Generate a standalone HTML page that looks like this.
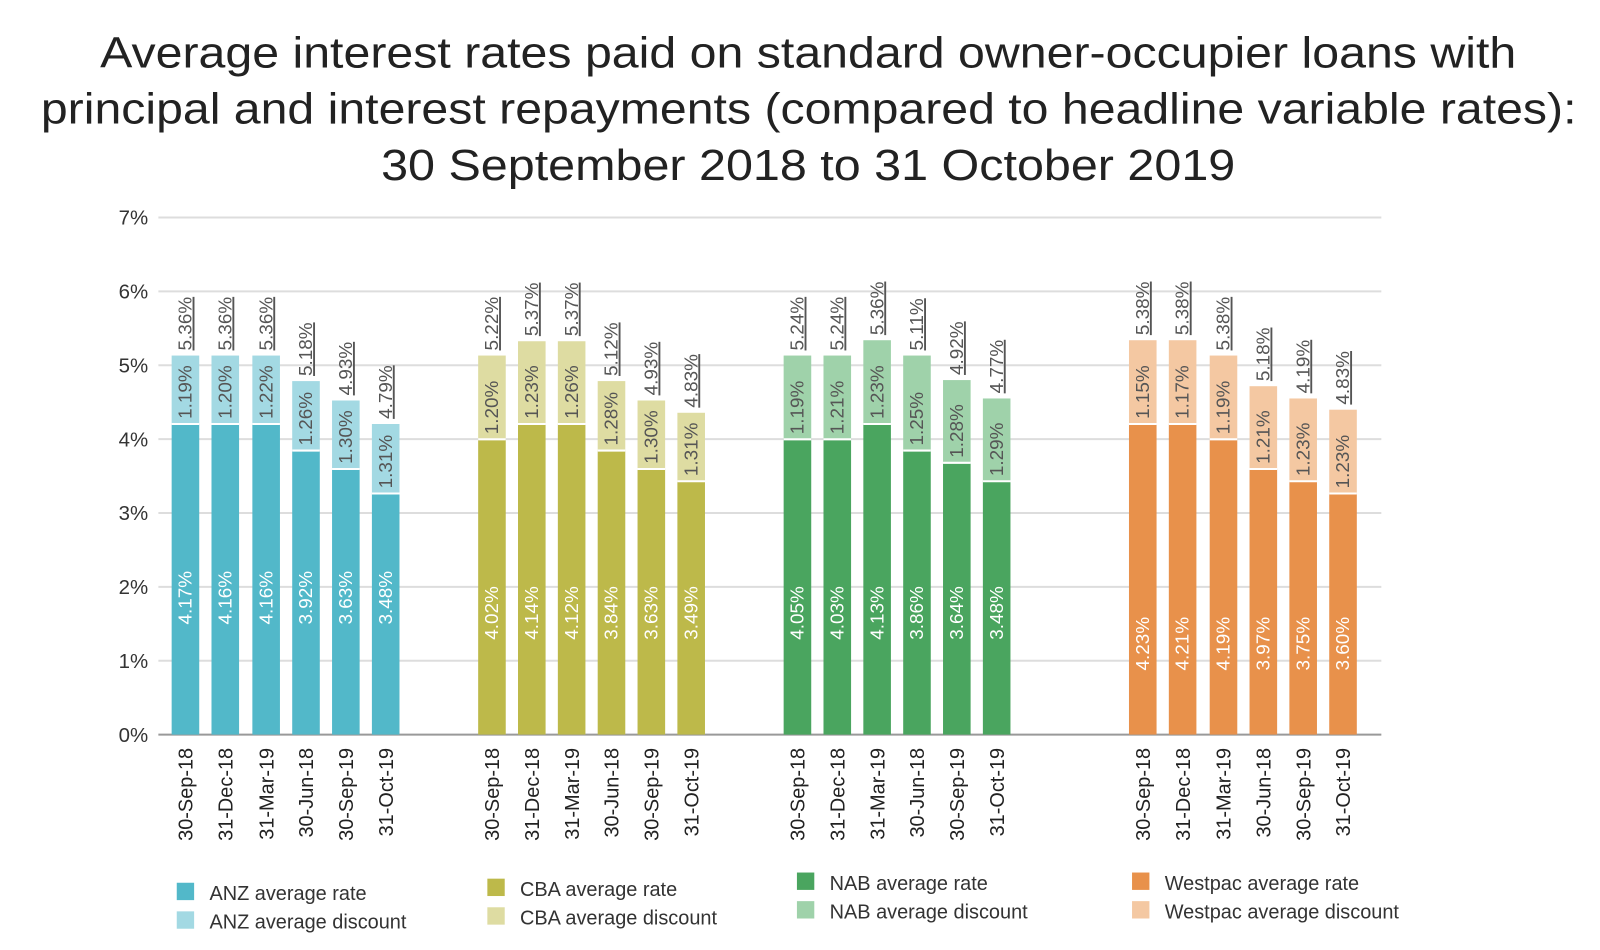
<!DOCTYPE html>
<html><head><meta charset="utf-8"><style>
body{margin:0;background:#fff;width:1600px;height:945px;overflow:hidden}
svg text{font-family:"Liberation Sans",sans-serif}
</style></head><body>
<svg width="1600" height="945" xmlns="http://www.w3.org/2000/svg">
<g id="s" transform="scale(1.0217)">
<text x="98" y="66" font-size="43" textLength="1386" lengthAdjust="spacingAndGlyphs" fill="#222">Average interest rates paid on standard owner-occupier loans with</text>
<text x="40" y="121" font-size="43" textLength="1503" lengthAdjust="spacingAndGlyphs" fill="#222">principal and interest repayments (compared to headline variable rates):</text>
<text x="373" y="176" font-size="43" textLength="836" lengthAdjust="spacingAndGlyphs" fill="#222">30 September 2018 to 31 October 2019</text>
</g>
</svg>
<script>
const s=document.getElementById('s');let h='';
const y0=719,pp=72.3;
for(let i=0;i<=7;i++){const y=y0-i*pp;h+=`<line x1="155" x2="1352" y1="${y}" y2="${y}" stroke="${i?'#ddd':'#999'}" stroke-width="2"/>`;
h+=`<text x="145" y="${y+7}" font-size="20" text-anchor="end" fill="#333">${i}%</text>`;}
const dates=['30-Sep-18','31-Dec-18','31-Mar-19','30-Jun-18','30-Sep-19','31-Oct-19'];
const G=[
{x:[168,207,247,286,325,364],c:'#52b8c9',l:'#a3d9e3',r:[415,415,415,441,459,483],t:[348,348,348,373,392,415],
rl:['4.17%','4.16%','4.16%','3.92%','3.63%','3.48%'],dl:['1.19%','1.20%','1.22%','1.26%','1.30%','1.31%'],tl:['5.36%','5.36%','5.36%','5.18%','4.93%','4.79%'],ry:585},
{x:[468,507,546,585,624,663],c:'#bdb94a',l:'#dedca2',r:[430,415,415,441,459,471],t:[348,334,334,373,392,404],
rl:['4.02%','4.14%','4.12%','3.84%','3.63%','3.49%'],dl:['1.20%','1.23%','1.26%','1.28%','1.30%','1.31%'],tl:['5.22%','5.37%','5.37%','5.12%','4.93%','4.83%'],ry:600},
{x:[767,806,845,884,923,962],c:'#4aa55f',l:'#9fd2aa',r:[430,430,415,441,453,471],t:[348,348,333,348,372,390],
rl:['4.05%','4.03%','4.13%','3.86%','3.64%','3.48%'],dl:['1.19%','1.21%','1.23%','1.25%','1.28%','1.29%'],tl:['5.24%','5.24%','5.36%','5.11%','4.92%','4.77%'],ry:600},
{x:[1105,1144,1184,1223,1262,1301],c:'#e8914b',l:'#f4c8a2',r:[415,415,430,459,471,483],t:[333,333,348,378,390,401],
rl:['4.23%','4.21%','4.19%','3.97%','3.75%','3.60%'],dl:['1.15%','1.17%','1.19%','1.21%','1.23%','1.23%'],tl:['5.38%','5.38%','5.38%','5.18%','4.19%','4.83%'],ry:630}];
const rot=(x,y,t,fill,anchor,fs,extra='')=>`<text transform="translate(${x},${y}) rotate(-90)" font-size="${fs}" fill="${fill}" text-anchor="${anchor}" ${extra}>${t}</text>`;
G.forEach(g=>{g.x.forEach((x,i)=>{const w=27,cx=x+w/2+6;
h+=`<rect x="${x}" y="${g.t[i]}" width="${w}" height="${g.r[i]-g.t[i]}" fill="${g.l}"/>`;
h+=`<rect x="${x}" y="${g.r[i]}" width="${w}" height="${y0-g.r[i]}" fill="${g.c}"/>`;
h+=`<line x1="${x}" x2="${x+w}" y1="${g.r[i]}" y2="${g.r[i]}" stroke="#fff" stroke-width="2"/>`;
h+=rot(cx,g.ry,g.rl[i],'#fff','middle',18.5);
h+=rot(cx,g.r[i]-5,g.dl[i],'#555','start',18.5);
h+=rot(cx,g.t[i]-5,g.tl[i],'#555','start',18.5,'text-decoration="underline"');
h+=rot(cx+1,732,dates[i],'#222','end',19.5);});});
const L=[[173,864,'#52b8c9','#a3d9e3','ANZ',28],[477,860,'#bdb94a','#dedca2','CBA',28],[780,854,'#4aa55f','#9fd2aa','NAB',28],[1108,854,'#e8914b','#f4c8a2','Westpac',28]];
L.forEach(([x,y,c,l,n,d])=>{h+=`<rect x="${x}" y="${y}" width="17" height="17" fill="${c}"/><rect x="${x}" y="${y+d}" width="17" height="17" fill="${l}"/>`;
h+=`<text x="${x+32}" y="${y+17}" font-size="19.5" fill="#333">${n} average rate</text><text x="${x+32}" y="${y+17+d}" font-size="19.5" fill="#333">${n} average discount</text>`;});
s.insertAdjacentHTML('beforeend',h);
</script>
</body></html>
